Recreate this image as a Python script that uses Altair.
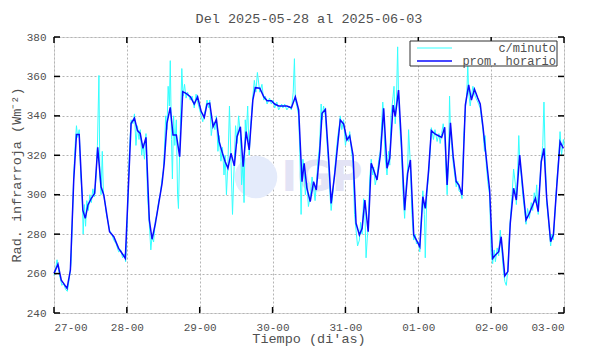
import altair as alt
import pandas as pd

# ---------------- texts ----------------
title_text = "Del 2025-05-28 al 2025-06-03"
x_title = "Tiempo (di'as)"
y_title = "Rad. infrarroja (Wm⁻²)"
legend_labels = ["c/minuto", "prom. horario"]
legend_colors = ["#33ffff", "#0a0aff"]
logo_text = "IGP"

# ---------------- axes ----------------
x_tick_hours = [0, 24, 48, 72, 96, 120, 144, 168]
x_tick_labels = ["27-00", "28-00", "29-00", "30-00", "31-00", "01-00", "02-00", "03-00"]
y_ticks = [240, 260, 280, 300, 320, 340, 360, 380]

# ---------------- hourly mean (blue) ----------------
blue_hours = [0, 1.3, 2.4, 4.3, 5.4, 6.5, 7.4, 8.3, 9.5, 10.3, 11.2, 12.3, 13.4, 14.4, 15.5, 16.4,
              17.5, 18.3, 19.7, 21.3, 22.4, 23.5, 25.4, 26.5, 27.5, 28.4, 29.3, 30.3, 31.4, 32.3,
              33.4, 34.5, 35.6, 36.3, 37.2, 38.3, 39.2, 40.3, 41.4, 42.4, 43.5, 44.9, 46.2, 47.3,
              48.5, 49.5, 50.4, 51.3, 52.4, 53.5, 54.4, 55.5, 56.4, 57.3, 58.3, 59.4, 60.3, 61.4,
              62.3, 63.3, 64.3, 65.5, 66.3, 67.8, 69.1, 70.2, 71.6, 72.7, 74, 75.4, 76.7, 78.2,
              79.5, 80.6, 81.7, 82.4, 83.3, 84.4, 85.5, 86.4, 87.5, 88.3, 89.4, 90.5, 91.3, 92.5,
              93.5, 94.3, 95.4, 96.5, 97.4, 98.5, 99.5, 100.6, 101.5, 102.4, 103.5, 104.5, 105.3,
              106.4, 107.5, 108.6, 109.7, 110.6, 111.7, 112.4, 113.5, 114.4, 115.5, 116.5, 117.4,
              118.5, 119.4, 120.5, 121.5, 122.3, 123.4, 124.3, 125.5, 126.8, 127.7, 128.7, 129.5,
              130.6, 131.5, 132.5, 133.4, 134.4, 135.5, 136.6, 137.5, 138.5, 139.6, 140.4, 141.3,
              142.4, 143.5, 144.5, 145.4, 146.5, 147.3, 148.5, 149.5, 150.3, 151.4, 152.3, 153.4,
              154.4, 155.5, 156.6, 157.7, 158.6, 159.5, 160.5, 161.4, 162.3, 163.6, 164.5, 165.6,
              166.7, 167.8]
blue_vals = [260.1, 264.7, 256.7, 252.5, 261.8, 307.5, 330.6, 330.6, 292.2, 288, 294.8, 298.2, 300.7,
             324, 304, 299.9, 288.9, 281.2, 278.7, 272.8, 270.3, 267.7, 336.2, 338.8, 332.5, 331.1,
             323.5, 329.1, 287.2, 277.4, 285.5, 295.6, 305.8, 315.9, 336.2, 344.3, 330.3, 330.3,
             319.3, 352.3, 351.4, 349.7, 346, 349.7, 342.1, 339.2, 346, 346.4, 334.5, 338.2, 326.9,
             321, 316.7, 313.4, 321, 314.6, 329.4, 334.5, 314.2, 332, 322.7, 348, 354.3, 354,
             349.7, 347.7, 347.7, 346, 345, 345, 345, 344.1, 349.7, 343, 306.6, 315.9, 303.5,
             296.5, 306.6, 302.4, 321, 341.3, 343.3, 317.6, 295.6, 310.8, 326.1, 337.9, 335.9,
             327.8, 329.8, 320.1, 285.5, 279.6, 283, 297.3, 281.2, 315.9, 312.5, 307.5, 320.1,
             343.8, 313.4, 318.5, 345.5, 339.6, 353.1, 327.8, 292.2, 310.8, 317.6, 279.6, 277,
             273.6, 299, 293.1, 312.5, 332.5, 330.8, 329.8, 329.1, 334.2, 304.9, 336.5, 319.3,
             306.6, 304.9, 299.9, 345.5, 355.7, 348, 353.5, 349, 346, 334.5, 318.5, 302.4, 267.7,
             269.4, 271.1, 278.7, 258.8, 261, 285.5, 303.3, 297.3, 320.1, 304, 287.2, 290.6,
             294.8, 298.2, 291.4, 316.7, 323.5, 298.2, 276.2, 279.6, 304, 326.9, 323.5]

# ---------------- per-minute (cyan) ----------------
cyan_hours = [0, 0.5, 1, 1.5, 2, 2.6, 3.2, 3.8, 4.4, 5, 5.6, 6, 6.5, 7, 7.4, 7.8, 8.3, 8.8, 9.3, 9.6,
              10, 10.4, 10.8, 11.3, 11.8, 12.3, 12.8, 13.3, 13.8, 14.3, 14.8, 15.1, 15.5, 15.9, 16.3,
              16.8, 17.3, 17.8, 18.3, 19, 19.7, 20.5, 21.3, 22, 22.6, 23.2, 23.6, 24.2, 24.8, 25.4,
              26, 26.5, 27, 27.5, 28, 28.4, 28.9, 29.3, 29.8, 30.3, 30.8, 31.4, 31.9, 32.3, 32.8,
              33.4, 33.9, 34.5, 35, 35.6, 36, 36.3, 36.8, 37.2, 37.6, 38, 38.3, 38.7, 39, 39.4, 39.8,
              40.3, 40.7, 41, 41.4, 41.8, 42.1, 42.5, 43, 43.5, 44, 44.9, 45.5, 46.2, 46.8, 47.3, 48,
              48.5, 49, 49.5, 50, 50.4, 51, 51.3, 51.8, 52.4, 53, 53.5, 54, 54.4, 55, 55.5, 56, 56.4,
              56.8, 57.3, 57.8, 58.3, 58.8, 59.4, 59.8, 60.3, 60.8, 61.4, 61.8, 62.3, 62.6, 63, 63.3,
              63.8, 64.3, 64.8, 65.5, 66, 66.5, 67, 67.8, 68.5, 69.1, 69.6, 70.2, 71, 71.6, 72.2,
              72.7, 73.4, 74, 75, 75.4, 76, 76.7, 77.5, 78.2, 78.8, 79.2, 79.5, 80, 80.6, 81, 81.4,
              81.7, 82, 82.4, 82.8, 83.3, 83.8, 84.4, 85, 85.5, 86, 86.4, 87, 87.5, 88, 88.3, 88.8,
              89.4, 90, 90.5, 91, 91.3, 91.8, 92.5, 93, 93.5, 94, 94.3, 94.8, 95.4, 96, 96.5, 97,
              97.4, 98, 98.5, 99, 99.5, 100, 100.6, 101, 101.5, 102, 102.4, 102.8, 103.2, 103.5,
              104, 104.5, 105, 105.3, 105.8, 106.4, 107, 107.5, 108, 108.3, 108.6, 109, 109.7,
              110.2, 110.6, 111, 111.7, 112, 112.4, 112.8, 113.2, 113.5, 114, 114.4, 115, 115.5,
              116, 116.5, 116.8, 117.4, 117.9, 118.5, 119, 119.4, 120, 120.5, 121, 121.5, 122, 122.3,
              122.8, 123.4, 124, 124.3, 125, 125.5, 126.2, 126.8, 127.2, 127.7, 128.2, 128.7, 129.2,
              129.5, 130, 130.3, 130.6, 131, 131.5, 132, 132.5, 133, 133.4, 134, 134.4, 135, 135.5,
              136, 136.3, 136.6, 137.1, 137.5, 138, 138.5, 139, 139.6, 140.4, 141.3, 141.8, 142,
              142.4, 143, 143.5, 144, 144.5, 145, 145.4, 146, 146.5, 147, 147.3, 148, 148.5, 149,
              149.5, 150, 150.3, 150.9, 151.4, 152, 152.3, 152.8, 153.1, 153.4, 154, 154.4, 155,
              155.5, 156, 156.6, 157.2, 157.7, 158.2, 158.6, 159, 159.5, 160, 160.5, 161, 161.4,
              161.8, 162.3, 163, 163.6, 164, 164.5, 165, 165.6, 166.2, 166.7, 167.2, 167.8, 168]
cyan_vals = [259, 262, 267, 262, 258, 254, 255, 252, 251, 257, 265, 285, 310, 326, 335, 329, 333, 310,
             300, 280, 295, 284, 297, 292, 300, 296, 303, 299, 308, 325, 360.5, 310, 300, 322, 300,
             296, 290, 286, 282, 280, 277, 275, 271, 272, 268, 270, 266, 290, 320, 338, 336, 341,
             325, 335, 328, 333, 320, 326, 318, 331, 300, 285, 272, 279, 276, 287, 290, 297, 300,
             308, 312, 320, 340, 333, 355, 345, 368, 328, 308, 340, 325, 338, 300, 293, 322, 345,
             364, 350, 356, 349, 352, 348, 350, 344, 351, 347, 343, 340, 337, 341, 344, 348, 344,
             348, 330, 337, 333, 340, 322, 330, 317, 324, 310, 320, 300, 316, 345, 318, 290, 317,
             335, 326, 340, 331, 305, 317, 296, 338, 329, 345, 320, 335, 350, 358, 352, 362, 352,
             356, 348, 350, 346, 349, 346, 348, 344, 347, 343, 346, 344, 346, 343, 345, 343, 352,
             369, 348, 345, 340, 320, 290, 308, 318, 313, 300, 306, 294, 299, 309, 304, 297, 305,
             318, 325, 346, 338, 345, 340, 325, 314, 298, 292, 300, 313, 322, 330, 335, 340, 333,
             338, 325, 330, 327, 332, 322, 316, 290, 282, 274, 277, 286, 280, 298, 292, 268, 278,
             284, 308, 318, 310, 314, 305, 309, 318, 322, 338, 347, 341, 320, 310, 322, 315, 340,
             350, 355, 336, 348, 375, 350, 332, 324, 300, 288, 305, 313, 333, 315, 290, 277, 280,
             275, 276, 271, 288, 302, 290, 268, 300, 310, 325, 334, 328, 333, 327, 331, 326, 331,
             336, 331, 310, 300, 320, 350, 333, 325, 316, 310, 304, 307, 302, 301, 298, 330, 343,
             352, 366, 352, 345, 350, 355, 351, 349, 347, 344, 333, 322, 330, 315, 305, 300, 270,
             265, 272, 266, 273, 269, 282, 276, 262, 256, 254, 262, 280, 287, 300, 313, 305, 295,
             315, 330, 318, 308, 300, 292, 285, 293, 288, 296, 292, 301, 296, 305, 290, 305, 318,
             325, 347, 320, 296, 285, 274, 280, 277, 290, 306, 318, 332, 320, 328, 325]

FONT = "Liberation Mono"
TXT = "#505050"
W, H = 510, 276

blue = pd.DataFrame({"hora": blue_hours, "rad": blue_vals})
cyan = pd.DataFrame({"hora": cyan_hours, "rad": cyan_vals})
xt = pd.DataFrame({"hora": x_tick_hours})
yt = pd.DataFrame({"rad": y_ticks})
one = pd.DataFrame({"k": [0]})

xscale = alt.Scale(domain=[0, 168], nice=False, zero=False)
yscale = alt.Scale(domain=[240, 380], nice=False, zero=False)
label_expr = f"{x_tick_labels}[round(datum.value/24)]"

x_axis = alt.Axis(values=x_tick_hours, labelExpr=label_expr, title=None, ticks=False,
                  domain=False, grid=True, gridDash=[2, 2], gridColor="#b4b4b4",
                  labelFont=FONT, labelFontSize=11, labelColor=TXT, labelPadding=8)
y_axis = alt.Axis(values=y_ticks, title=None, ticks=False, domain=False, grid=True,
                  gridDash=[2, 2], gridColor="#b4b4b4", labelFont=FONT, labelFontSize=11,
                  labelColor=TXT, labelPadding=8)

X = alt.X("hora:Q", scale=xscale, axis=x_axis)
Y = alt.Y("rad:Q", scale=yscale, axis=y_axis)

logo_circle = alt.Chart(one).mark_circle(size=1810, color="#e4ebfb", opacity=1).encode(
    x=alt.value(202), y=alt.value(140))
logo = alt.Chart(one).mark_text(font="DejaVu Sans", fontWeight="bold", fontSize=42,
                                color="#e3e3f5", align="center", baseline="middle").encode(
    x=alt.value(268), y=alt.value(141), text=alt.value(logo_text))

cyan_line = alt.Chart(cyan).mark_line(color=legend_colors[0], strokeWidth=1).encode(x=X, y=Y)
blue_line = alt.Chart(blue).mark_line(color=legend_colors[1], strokeWidth=1.5).encode(x=X, y=Y)

tick_style = dict(color="black", strokeWidth=1.5)
xt_bot = alt.Chart(xt).mark_rule(**tick_style).encode(x=X, y=alt.value(H), y2=alt.value(H - 6))
xt_top = alt.Chart(xt).mark_rule(**tick_style).encode(x=X, y=alt.value(0), y2=alt.value(6))
yt_left = alt.Chart(yt).mark_rule(**tick_style).encode(y=Y, x=alt.value(0), x2=alt.value(6))
yt_right = alt.Chart(yt).mark_rule(**tick_style).encode(y=Y, x=alt.value(W), x2=alt.value(W - 6))

leg_box = alt.Chart(one).mark_rect(fill="white", stroke="#303030", strokeWidth=1).encode(
    x=alt.value(356), x2=alt.value(503), y=alt.value(4), y2=alt.value(29))
leg_layers = []
for i, (lab, col) in enumerate(zip(legend_labels, legend_colors)):
    yy = 11 + 13 * i
    leg_layers.append(alt.Chart(one).mark_rule(color=col, strokeWidth=1 + 0.5 * i).encode(
        x=alt.value(363), x2=alt.value(398), y=alt.value(yy)))
    leg_layers.append(alt.Chart(one).mark_text(font=FONT, fontSize=12, color=TXT, align="right",
                                               baseline="middle").encode(
        x=alt.value(502), y=alt.value(yy), text=alt.value(lab)))

title_mark = alt.Chart(one).mark_text(font=FONT, fontSize=13.5, color=TXT, align="center",
                                      baseline="middle").encode(
    x=alt.value(W / 2), y=alt.value(-18), text=alt.value(title_text))
xtitle_mark = alt.Chart(one).mark_text(font=FONT, fontSize=13.5, color=TXT, align="center",
                                       baseline="middle").encode(
    x=alt.value(W / 2), y=alt.value(H + 26), text=alt.value(x_title))
ytitle_mark = alt.Chart(one).mark_text(font=FONT, fontSize=13.5, color=TXT, align="center",
                                       baseline="middle", angle=270).encode(
    x=alt.value(-37), y=alt.value(H / 2), text=alt.value(y_title))

chart = alt.layer(
    logo_circle, logo, cyan_line, blue_line, xt_bot, xt_top, yt_left, yt_right,
    leg_box, *leg_layers, title_mark, xtitle_mark, ytitle_mark
).properties(
    width=W, height=H,
    autosize=alt.AutoSizeParams(type="none"),
    padding={"left": 46, "top": 29, "right": 18, "bottom": 33},
).configure_view(stroke="black", strokeWidth=1.5).configure(background="white")

chart.save("out.html", embed_options={"renderer": "svg", "actions": False})
